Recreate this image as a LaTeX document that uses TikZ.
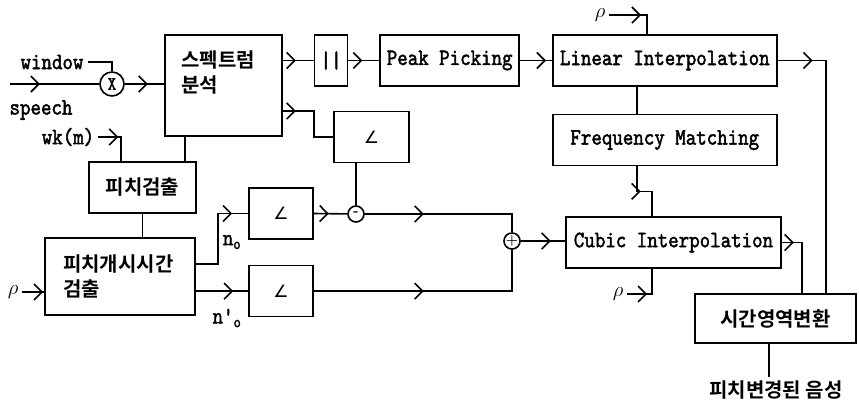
\documentclass[tikz,border=0pt]{standalone}
\usepackage{fontspec}
\newfontfamily\enfont{lmmono10-regular.otf}[FakeBold=1.8, FakeStretch=0.85]
\newfontfamily\krfont{Noto Sans CJK KR Bold}
\newfontfamily\symfont{DejaVu Sans}
\usetikzlibrary{arrows.meta,positioning,calc,decorations.markings}
\tikzset{
  box/.style={draw, minimum height=51pt, inner sep=3pt},
  en/.style={font=\enfont\fontsize{23.5}{26}\selectfont},
  kr/.style={font=\krfont\fontsize{20}{25}\selectfont},
  ang/.style={box, font=\symfont\fontsize{17}{20}\selectfont},
  junc/.style={draw, circle, inner sep=0pt},
  sig/.style={postaction={decorate}, decoration={markings,
      mark=at position #1 with {\arrow{Straight Barb[length=8pt,width=16pt]}}}},
}

\begin{document}
\begin{tikzpicture}[x=1pt, y=-1pt, line width=1.6pt]
  \useasboundingbox (0,0) rectangle (859,408);

  % blocks
  \node[box, minimum width=117pt, minimum height=101pt,
        label={[kr, align=left, anchor=north west, xshift=13pt, yshift=-12pt]north west:스펙트럼\\분석}] (spec) at (223.5,85.5) {};
  \node[box, en, minimum width=33pt, right=31pt of spec.north east, anchor=north west] (abs) {||};
  \node[box, en, minimum width=139pt, right=31pt of abs] (peak) {Peak Picking};
  \node[box, en, minimum width=224pt, right=32pt of peak] (lin) {Linear Interpolation};
  \node[box, en, minimum width=224pt, below=27pt of lin] (freq) {Frequency Matching};
  \node[ang, minimum width=75pt] (ang1) at (371.5,137) {∠};
  \node[box, kr, minimum width=107pt] (pdet) at (142.5,187.5) {피치검출};
  \node[box, kr, minimum height=77pt, text width=114pt, inner xsep=18pt, align=left] (onset) at (120,276.5) {피치개시시간\\검출};
  \node[ang, minimum width=64pt] (ang2) at (281,213.5) {∠};
  \node[ang, minimum width=64pt, below=25pt of ang2] (ang3) {∠};
  \node[box, en, minimum width=215pt] (cubic) at (673.5,242.5) {Cubic Interpolation};
  \node[box, kr, minimum width=161pt, minimum height=49pt] (tdom) at (775.5,318.5) {시간영역변환};

  % junctions
  \node[junc, en, minimum size=24pt, font=\enfont\fontsize{19}{19}\selectfont] (mult) at (112,84) {X};
  \node[junc, minimum size=16pt, font=\bfseries\fontsize{14}{14}\selectfont] (minus) at (356,214) {-};
  \node[junc, minimum size=16pt, font=\bfseries\fontsize{14}{14}\selectfont] (plus) at (512,241) {+};

  % labels
  \coordinate (in) at (10,84);
  \node[en] (win) at (52,62) {window};
  \node[en] (speech) at (41,110) {speech};
  \node[en] (wk) at (68,137) {wk(m)};
  \node[font=\fontsize{20}{20}\selectfont] (rho1) at (600,15) {$\rho$};
  \node[font=\fontsize{20}{20}\selectfont] (rho2) at (13,292) {$\rho$};
  \node[font=\fontsize{20}{20}\selectfont] (rho3) at (618,294) {$\rho$};
  \node[en] (n1) at (232,242) {n\textsubscript{o}};
  \node[en] (n2) at (227,318) {n'\textsubscript{o}};
  \node[kr] (out) at (776,390) {피치변경된 음성};

  % input side
  \draw[sig=30pt] (in) -- (mult);
  \draw (win.east) -| (mult.north);
  \draw[sig=23pt] (mult.east) -- (mult -| spec.west);
  \draw[sig=20pt] (wk.east) -| ([xshift=-21.5pt]pdet.north);
  \draw ([xshift=-38.5pt]spec.south) -- ([xshift=-38.5pt]spec.south |- pdet.north);
  \draw (pdet.south) -- (pdet.south |- onset.north);
  \draw[sig=-1pt] (rho2.east) -- (rho2 -| onset.west);

  % phase paths
  \draw[sig=-16pt] ([yshift=12.5pt]onset.east) -- ++(22,0) |- (ang2.west);
  \draw[sig=-15pt] (onset.east |- ang3.west) -- (ang3.west);
  \draw[sig=13pt] (spec.east |- abs.west) -- (abs.west);
  \draw[sig=13pt] ([yshift=-25.5pt]spec.east) -- ++(31,0) |- (ang1.west);
  \draw (minus |- ang1.south) -- (minus);
  \draw[sig=15pt] (ang2.east) -- (minus);
  \draw[sig=59pt] (minus.east) -| (plus.north);
  \draw[sig=110pt] (ang3.east) -| (plus.south);
  \draw[sig=30pt] (plus.east) -- (plus.east -| cubic.west);

  % magnitude paths
  \draw[sig=14pt] (abs.east) -- (abs.east -| peak.west);
  \draw[sig=-6pt] (peak.east) -- (peak.east -| lin.west);
  \draw[sig=-25pt] (rho1.east) -| ([xshift=-18pt]lin.north);
  \draw ([xshift=-28pt]lin.south) -- ([xshift=-28pt]freq.north);
  \draw[sig=-36pt] ([xshift=-28pt]freq.south) -- ++(0,25) -| ([xshift=-21.5pt]cubic.north);
  \draw[sig=-30pt] (rho3.east) -| ([xshift=-21.5pt]cubic.south);

  % synthesis
  \draw[sig=35pt] (lin.east) -| ([xshift=50.5pt]tdom.north);
  \draw[sig=12pt] (cubic.east) -| ([xshift=26.5pt]tdom.north);
  \draw ([xshift=-6.5pt]tdom.south) -- ([xshift=-6.5pt]tdom.south |- out.north);
\end{tikzpicture}
\end{document}
